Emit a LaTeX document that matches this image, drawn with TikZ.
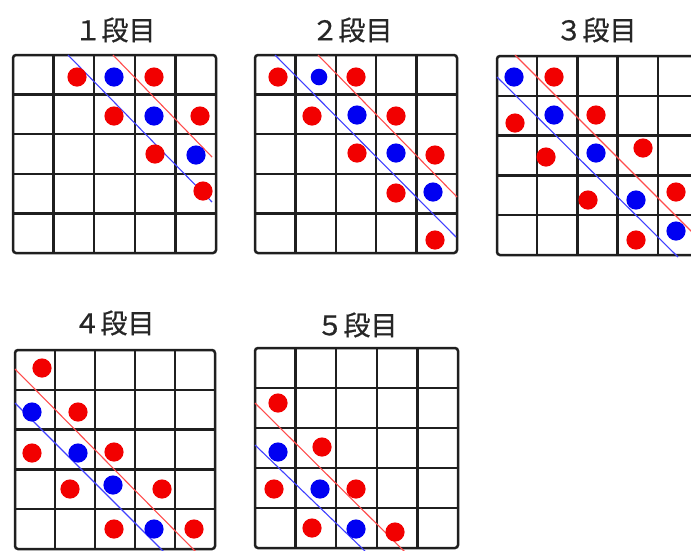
\documentclass[tikz,border=0pt]{standalone}
\usepackage{fontspec}
\newfontfamily\jp[FakeBold=0.8]{Noto Sans CJK JP}
\newcommand\mygrid[4]{%
  \foreach \i in {1,...,4} {
    \draw[gridline] ({#1+(#3-#1)*\i/5},#2) -- ({#1+(#3-#1)*\i/5},#4);
    \draw[gridline] (#1,{#2+(#4-#2)*\i/5}) -- (#3,{#2+(#4-#2)*\i/5});
  }
  \draw[frame] (#1,#2) rectangle (#3,#4);}
\newcommand\rd[2]{\fill[rdot] (#1,#2) circle[radius=9.6pt];}
\newcommand\bd[2]{\fill[bdot] (#1,#2) circle[radius=9.6pt];}
\begin{document}
\begin{tikzpicture}[x=1pt,y=-1pt,
  gridline/.style={line width=2.3pt, draw=black!88},
  frame/.style={line width=2.5pt, draw=black!88, rounded corners=3pt},
  rdot/.style={fill=red!95!black},
  bdot/.style={fill=blue!95!black},
  rline/.style={draw=red!70, line width=1.1pt},
  bline/.style={draw=blue!75, line width=1.1pt},
  title/.style={font=\jp\fontsize{27}{27}\selectfont, text=black!85, inner sep=0pt}]
\useasboundingbox (0,0) rectangle (691,550);
\clip (0,0) rectangle (691,550);
\fill[white] (0,0) rectangle (691,550);
% titles
\node[title] (t1) at (115,30) {１段目};
\node[title] (t2) at (352,30) {２段目};
\node[title] (t3) at (596,30) {３段目};
\node[title] (t4) at (114,323) {４段目};
\node[title] (t5) at (357,325) {５段目};
% grids
\mygrid{13}{55}{216}{253}
\mygrid{255}{55}{457}{253}
\mygrid{497}{56}{698}{255}
\mygrid{15}{350}{215}{549}
\mygrid{255}{348}{458}{548}
% diagonal lines
\draw[bline] (68,55) -- (212,202);
\draw[rline] (113,55) -- (212,157);
\draw[bline] (275,55) -- (456,237);
\draw[rline] (318,55) -- (457,197);
\draw[bline] (497,77) -- (678,257);
\draw[rline] (515,55) -- (700,240);
\draw[rline] (15,369) -- (196,552);
\draw[bline] (15,403) -- (164,552);
\draw[rline] (255,403) -- (405,552);
\draw[bline] (255,445) -- (366,552);
% grid 1 dots
\rd{77}{77}\rd{154}{77}\rd{114}{116}\rd{200}{116}\rd{155}{154}\rd{203}{191}
\bd{114}{77}\bd{154}{116}\bd{196}{155}
% grid 2 dots
\rd{278}{77}\rd{356}{77}\rd{312}{116}\rd{396}{116}\rd{357}{153}\rd{435}{155}\rd{396}{193}\rd{435}{240}
\fill[bdot] (319,77) circle[radius=8.3pt];
\bd{357}{115}\bd{396}{153}\bd{433}{192}
% grid 3 dots
\bd{514}{77}\bd{554}{115}\bd{596}{153}\bd{636}{200}\bd{676}{231}
\rd{554}{77}\rd{515}{123}\rd{596}{115}\rd{546}{157}\rd{643}{148}\rd{588}{200}\rd{676}{192}\rd{636}{240}
% grid 4 dots
\rd{42}{368}\rd{78}{412}\rd{32}{453}\rd{114}{452}\rd{70}{489}\rd{162}{489}\rd{114}{529}\rd{194}{529}
\bd{32}{412}\bd{78}{453}\bd{113}{485}\bd{154}{529}
% grid 5 dots
\rd{278}{403}\rd{322}{447}\rd{274}{489}\rd{356}{489}\rd{312}{528}\rd{395}{532}
\bd{278}{452}\bd{320}{489}\bd{356}{529}
\end{tikzpicture}
\end{document}
